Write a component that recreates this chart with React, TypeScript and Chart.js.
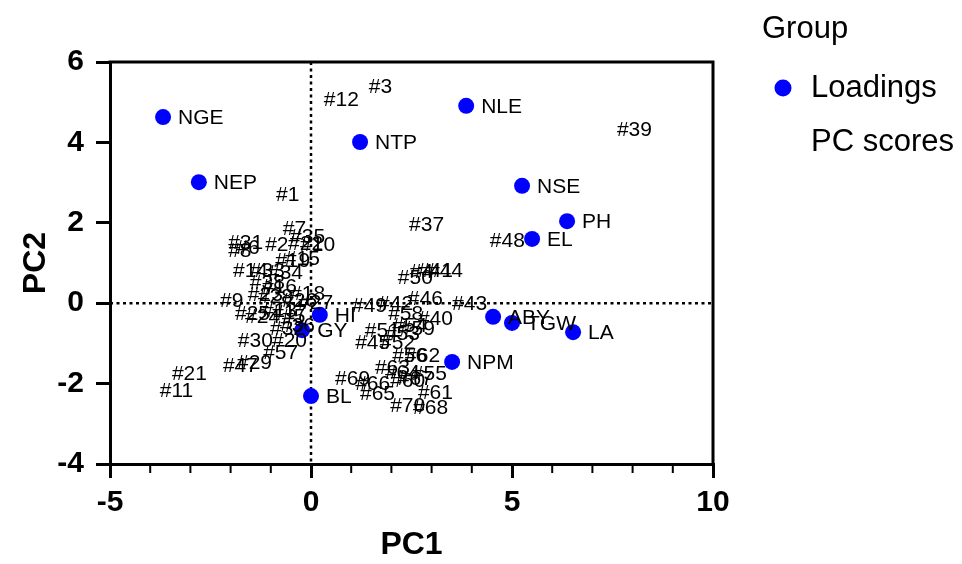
import React, { useEffect, useRef } from "react";
import { Chart, registerables } from "chart.js";

Chart.register(...registerables);

const FONT = "'Liberation Sans', Arial, Helvetica, sans-serif";

// Loadings (blue points with labels)
const loadingLabels = ["NGE", "NEP", "NTP", "NLE", "NSE", "PH", "EL", "ABY", "TGW", "LA", "NPM", "HI", "GY", "BL"];
const loadingX = [-3.68, -2.79, 1.22, 3.86, 5.25, 6.37, 5.5, 4.53, 5.0, 6.52, 3.51, 0.22, -0.22, 0.0];
const loadingY = [4.63, 3.01, 4.01, 4.91, 2.92, 2.04, 1.6, -0.34, -0.49, -0.72, -1.46, -0.29, -0.67, -2.31];

// PC scores (labels only)
const scoreLabels = [
  "#1", "#3", "#12", "#39", "#37", "#48", "#50", "#4", "#41", "#44",
  "#46", "#43", "#49", "#42", "#58", "#40", "#59", "#51", "#53", "#54",
  "#45", "#52", "#56", "#62", "#63", "#69", "#66", "#65", "#60", "#67",
  "#64", "#55", "#61", "#70", "#68", "#21", "#11", "#47", "#29", "#57",
  "#30", "#20", "#32", "#36", "#25", "#24", "#13", "#17", "#5", "#9",
  "#23", "#28", "#18", "#26", "#27", "#38", "#16", "#14", "#33", "#34",
  "#19", "#15", "#31", "#8", "#6", "#2", "#10", "#7", "#35", "#22",
];
const scoreX = [
  -1.02, 1.29, 0.17, 7.46, 2.29, 4.3, 2.01, 2.31, 2.51, 2.76,
  2.26, 3.36, 0.87, 1.52, 1.77, 2.51, 2.06, 1.19, 1.69, 1.87,
  0.95, 1.57, 1.87, 2.19, 1.44, 0.45, 0.95, 1.07, 1.82, 2.01,
  1.69, 2.36, 2.51, 1.82, 2.39, -3.61, -3.91, -2.34, -1.99, -1.34,
  -1.97, -1.12, -1.17, -0.92, -2.04, -1.79, -1.37, -1.12, -0.87, -2.41,
  -1.72, -1.47, -0.67, -0.87, -0.47, -1.67, -1.37, -2.09, -1.67, -1.22,
  -1.04, -0.8, -2.21, -2.21, -2.01, -1.29, -0.42, -0.85, -0.67, -0.72,
];
const scoreY = [
  2.72, 5.4, 5.08, 4.33, 1.97, 1.57, 0.65, 0.8, 0.83, 0.83,
  0.13, 0.0, -0.05, 0.0, -0.24, -0.37, -0.62, -0.67, -0.74, -0.54,
  -0.97, -0.97, -1.29, -1.29, -1.59, -1.86, -1.99, -2.23, -1.91, -1.86,
  -1.71, -1.74, -2.21, -2.53, -2.58, -1.74, -2.16, -1.54, -1.46, -1.21,
  -0.92, -0.92, -0.62, -0.54, -0.24, -0.32, -0.17, -0.22, -0.32, 0.08,
  0.23, 0.18, 0.25, 0.08, 0.03, 0.53, 0.43, 0.83, 0.83, 0.78,
  1.07, 1.12, 1.52, 1.32, 1.4, 1.47, 1.47, 1.87, 1.67, 1.5,
];

const xTicks = [-5, 0, 5, 10];
const yTicks = [-4, -2, 0, 2, 4, 6];
const xMinorTicks = [-4, -3, -2, -1, 1, 2, 3, 4, 6, 7, 8, 9];

const BLUE = "#0000ff";

const overlay = {
  id: "overlay",
  beforeDatasetsDraw(chart: any) {
    const { ctx, chartArea: a, scales } = chart;
    const x = scales.x;
    const y = scales.y;
    ctx.save();
    ctx.strokeStyle = "#000";
    ctx.lineWidth = 2.5;
    ctx.setLineDash([3, 3.5]);
    const x0 = x.getPixelForValue(0);
    const y0 = y.getPixelForValue(0);
    ctx.beginPath();
    ctx.moveTo(x0, a.top);
    ctx.lineTo(x0, a.bottom);
    ctx.moveTo(a.left, y0);
    ctx.lineTo(a.right, y0);
    ctx.stroke();
    ctx.setLineDash([]);
    ctx.lineWidth = 3;
    ctx.beginPath();
    ctx.moveTo(a.left - 1.5, a.top);
    ctx.lineTo(a.right, a.top);
    ctx.lineTo(a.right, a.bottom);
    ctx.stroke();
    ctx.lineWidth = 2;
    ctx.beginPath();
    for (const v of xMinorTicks) {
      const px = x.getPixelForValue(v);
      ctx.moveTo(px, a.bottom);
      ctx.lineTo(px, a.bottom + 9);
    }
    ctx.stroke();
    ctx.restore();
  },
  afterDatasetsDraw(chart: any) {
    const { ctx } = chart;
    ctx.save();
    ctx.fillStyle = "#000";
    ctx.font = `21px ${FONT}`;
    ctx.textAlign = "left";
    ctx.textBaseline = "middle";
    chart.data.datasets.forEach((ds: any, i: number) => {
      const meta = chart.getDatasetMeta(i);
      const labels: string[] = ds.pointLabels;
      const off = i === 0 ? 15 : 6;
      meta.data.forEach((el: any, j: number) => {
        ctx.fillText(labels[j], el.x + off, el.y + 1);
      });
    });
    ctx.restore();
  },
  afterDraw(chart: any) {
    const { ctx } = chart;
    ctx.save();
    ctx.fillStyle = "#000";
    ctx.font = `31px ${FONT}`;
    ctx.textAlign = "left";
    ctx.textBaseline = "middle";
    ctx.fillText("Group", 762, 29);
    ctx.fillText("Loadings", 811, 88);
    ctx.fillText("PC scores", 811, 142);
    ctx.fillStyle = BLUE;
    ctx.beginPath();
    ctx.arc(783, 88, 8.5, 0, Math.PI * 2);
    ctx.fill();
    ctx.restore();
  },
};

export default function App() {
  const ref = useRef<HTMLCanvasElement | null>(null);
  useEffect(() => {
    document.body.style.margin = "0";
    if (!ref.current) return;
    const chart = new Chart(ref.current, {
      type: "scatter",
      data: {
        datasets: [
          {
            label: "Loadings",
            data: loadingX.map((v, i) => ({ x: v, y: loadingY[i] })),
            pointLabels: loadingLabels,
            backgroundColor: BLUE,
            borderColor: BLUE,
            pointRadius: 8,
            pointHoverRadius: 8,
            borderWidth: 0,
          } as any,
          {
            label: "PC scores",
            data: scoreX.map((v, i) => ({ x: v, y: scoreY[i] })),
            pointLabels: scoreLabels,
            backgroundColor: "rgba(0,0,0,0)",
            borderColor: "rgba(0,0,0,0)",
            pointRadius: 0,
            pointHoverRadius: 0,
          } as any,
        ],
      },
      options: {
        responsive: false,
        animation: false,
        events: [],
        layout: { padding: { top: 62, right: 249, bottom: 0, left: 0 } },
        plugins: {
          legend: { display: false },
          tooltip: { enabled: false },
        },
        scales: {
          x: {
            type: "linear",
            min: -5,
            max: 10,
            afterBuildTicks: (s: any) => {
              s.ticks = xTicks.map((v) => ({ value: v }));
            },
            afterFit: (s: any) => {
              s.height = 100;
            },
            ticks: {
              color: "#000",
              font: { family: FONT, size: 30, weight: "bold" },
              padding: 7,
              maxRotation: 0,
            },
            grid: {
              display: true,
              drawOnChartArea: false,
              drawTicks: true,
              tickLength: 14,
              tickColor: "#000",
              lineWidth: 3,
            },
            border: { display: true, color: "#000", width: 3 },
            title: {
              display: true,
              text: "PC1",
              color: "#000",
              font: { family: FONT, size: 32, weight: "bold" },
              padding: { top: 0, bottom: 0 },
            },
          },
          y: {
            type: "linear",
            min: -4,
            max: 6,
            afterBuildTicks: (s: any) => {
              s.ticks = yTicks.map((v) => ({ value: v }));
            },
            afterFit: (s: any) => {
              s.width = 110;
            },
            ticks: {
              color: "#000",
              font: { family: FONT, size: 30, weight: "bold" },
              padding: 12,
            },
            grid: {
              display: true,
              drawOnChartArea: false,
              drawTicks: true,
              tickLength: 14,
              tickColor: "#000",
              lineWidth: 3,
            },
            border: { display: true, color: "#000", width: 3 },
            title: {
              display: true,
              text: "PC2",
              color: "#000",
              font: { family: FONT, size: 32, weight: "bold" },
              padding: { top: 17, bottom: 0 },
            },
          },
        },
      } as any,
      plugins: [overlay],
    });
    return () => chart.destroy();
  }, []);
  return (
    <div style={{ width: 962, height: 564 }}>
      <canvas ref={ref} width={962} height={564} />
    </div>
  );
}
